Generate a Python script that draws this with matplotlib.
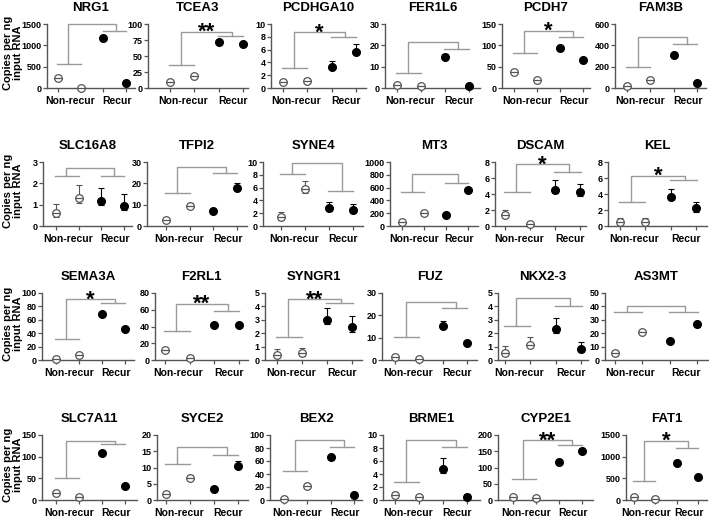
import matplotlib
matplotlib.use("Agg")
import matplotlib.pyplot as plt
import numpy as np

plt.rcParams['font.family'] = ['Liberation Sans', 'DejaVu Sans']
plt.rcParams['font.weight'] = 'bold'

FIG_W, FIG_H, DPI = 709, 520, 100

# ---- data ----
genes = ["NRG1", "TCEA3", "PCDHGA10", "FER1L6", "PCDH7", "FAM3B",
         "SLC16A8", "TFPI2", "SYNE4", "MT3", "DSCAM", "KEL",
         "SEMA3A", "F2RL1", "SYNGR1", "FUZ", "NKX2-3", "AS3MT",
         "SLC7A11", "SYCE2", "BEX2", "BRME1", "CYP2E1", "FAT1"]
y_max = [1500, 100, 10, 30, 150, 600,
         3, 30, 10, 1000, 8, 8,
         100, 80, 5, 30, 5, 50,
         150, 20, 100, 10, 200, 1500]
y_step = [500, 25, 2, 10, 50, 200,
          1, 10, 2, 200, 2, 2,
          20, 20, 1, 10, 1, 10,
          50, 5, 20, 2, 50, 500]
non_recur = [[230, 10], [10, 18], [0.9, 1.1], [1.3, 0.8], [38, 18], [20, 72],
             [0.6, 1.33], [2.8, 9.6], [1.45, 5.8], [60, 210], [1.35, 0.2], [0.55, 0.55],
             [1.5, 7], [11.5, 2.5], [0.4, 0.5], [1.5, 0.6], [0.55, 1.15], [5.5, 21],
             [17, 8], [1.8, 6.8], [1, 21], [0.8, 0.4], [8, 5], [62, 15]]
recur = [[1170, 110], [72, 69], [3.3, 5.7], [14.5, 1.0], [93, 65], [305, 47],
         [1.17, 0.95], [6.8, 17.9], [2.8, 2.5], [175, 560], [4.5, 4.2], [3.6, 2.2],
         [69, 46], [42, 42], [3.0, 2.5], [15.3, 7.4], [2.3, 0.8], [14, 26.5],
         [108, 32], [3.3, 10.6], [66, 7.5], [4.8, 0.5], [117, 150], [865, 530]]
err_hi = [[20, 10, 25, 15], [1.5, 1.5, 2, 2], [0.4, 0.4, 0.9, 1.2], [0.4, 0.3, 1.6, 0.3],
          [3, 3, 4, 3], [8, 8, 15, 8],
          [0.43, 0.6, 0.6, 0.55], [0.6, 1.2, 0.6, 2.2], [0.7, 1.3, 0.9, 0.9],
          [12, 12, 12, 15], [0.7, 0.25, 1.3, 1.1], [0.45, 0.5, 1.0, 0.8],
          [1, 2.5, 3, 2.5], [1.5, 1, 2.5, 2.5], [0.4, 0.4, 0.9, 0.8],
          [0.5, 0.4, 2.0, 1.0], [0.5, 0.6, 0.8, 0.55], [1, 1.5, 1.2, 1.5],
          [3, 3, 4, 3], [0.8, 1.0, 0.6, 1.4], [1.5, 2, 2.5, 1.5],
          [0.4, 0.3, 1.7, 0.5], [3, 3, 4, 4], [20, 15, 30, 30]]
err_lo = [[20, 10, 25, 15], [1.5, 1.5, 2, 2], [0.3, 0.3, 0.3, 0.4], [0.3, 0.3, 1.0, 0.3],
          [3, 3, 4, 3], [8, 8, 15, 8],
          [0.2, 0.25, 0.2, 0.22], [0.5, 1.0, 0.5, 1.2], [0.5, 0.6, 0.4, 0.5],
          [12, 12, 12, 15], [0.3, 0.2, 0.4, 0.5], [0.3, 0.3, 0.4, 0.4],
          [1, 2, 3, 2.5], [1.5, 1, 2.5, 2.5], [0.2, 0.2, 0.35, 0.4],
          [0.4, 0.3, 1.0, 0.8], [0.2, 0.2, 0.3, 0.2], [1, 1.5, 1.2, 1.5],
          [3, 3, 4, 3], [0.5, 0.6, 0.5, 0.7], [1.5, 2, 2.5, 1.5],
          [0.3, 0.2, 0.6, 0.3], [3, 3, 4, 4], [20, 15, 30, 30]]
# bracket heights: line over non-recur, line over recur, connecting top line
bracket_nr = [560, 36, 3.2, 7, 81, 196,
              2.33, 15.5, 8.1, 530, 4.2, 3.0,
              32, 35, 1.75, 10.3, 2.55, 35.5,
              51, 11.2, 45, 2.8, 66, 450]
bracket_r = [1340, 82, 7.9, 18.3, 119, 410,
             2.33, 24.8, 5.4, 675, 6.8, 5.7,
             85, 58, 4.25, 23.3, 4.0, 36,
             130, 14.0, 81, 8.1, 168, 1190]
bracket_top = [1500, 88, 8.7, 21.5, 134, 478,
               2.7, 27.7, 9.8, 820, 7.7, 6.3,
               91, 67, 4.55, 26, 4.6, 40,
               136, 16.3, 92, 9.3, 184, 1370]
stars = ["", "**", "*", "", "*", "",
         "", "", "", "", "*", "*",
         "*", "**", "**", "", "", "",
         "", "", "", "", "**", "*"]
group_labels = ["Non-recur", "Recur"]
ylabel_text = "Copies per ng\ninput RNA"

# ---- layout in pixels: y-axis x, first point x, last point x, x-axis end ----
panel_px = [(47, 58, 126, 135), (148, 170, 243, 248), (271, 283, 356, 366),
            (385, 397, 469, 480), (502, 514, 583, 590), (615, 627, 697, 706),
            (43, 56, 124, 132), (147, 166, 237, 247), (263, 281, 353, 363),
            (390, 402, 468, 478), (495, 505, 580, 586), (608, 620, 696, 707),
            (42, 56, 125, 134), (155, 165, 239, 248), (265, 277, 352, 362),
            (382, 395, 467, 477), (498, 505, 581, 588), (605, 615, 697, 708),
            (42, 56, 125, 137), (157, 166, 238, 248), (270, 284, 354, 362),
            (383, 395, 467, 480), (498, 513, 582, 593), (626, 634, 698, 707)]
row_top = [24, 162, 293, 435]
row_bottom = [88, 226, 360, 500]

LINE_GREY = '#9a9a9a'
AXIS_GREY = '#555555'
OPEN_GREY = '#555555'


def draw_panel(ax, i, xlim):
    x = np.array([1, 2, 3, 4])
    vals = non_recur[i] + recur[i]
    for j in range(4):
        filled = j >= 2
        col = 'black' if filled else OPEN_GREY
        ax.errorbar(x[j], vals[j], yerr=[[err_lo[i][j]], [err_hi[i][j]]], fmt='none',
                    ecolor=col, elinewidth=0.8, capsize=2.5, capthick=0.8,
                    clip_on=False, zorder=3)
        if filled:
            ax.plot(x[j], vals[j], 'o', color='black', ms=5.5, clip_on=False, zorder=4)
        else:
            ax.plot(x[j], vals[j], 'o', mfc='white', mec=col, mew=0.9, ms=5.5,
                    clip_on=False, zorder=4)
            ax.plot(x[j], vals[j], '_', color=col, ms=5.5, mew=0.9, clip_on=False, zorder=5)

    # significance brackets
    h1, h2, top = bracket_nr[i], bracket_r[i], bracket_top[i]
    kw = dict(color=LINE_GREY, lw=1.0, clip_on=False, zorder=2)
    ax.plot([0.95, 2.0], [h1, h1], **kw)
    ax.plot([2.97, 4.02], [h2, h2], **kw)
    ax.plot([1.45, 1.45, 3.55, 3.55], [h1, top, top, h2], **kw)
    if stars[i]:
        ax.annotate(stars[i], xy=(2.5, top), xytext=(0, -4.5), textcoords='offset points',
                    ha='center', va='baseline', fontsize=16, fontweight='bold',
                    annotation_clip=False)

    ax.set_xlim(*xlim)
    ax.set_ylim(0, y_max[i])
    ax.set_yticks(np.arange(0, y_max[i] + y_step[i] / 2, y_step[i]))
    ax.set_yticklabels(['%g' % v for v in ax.get_yticks()])
    ax.set_xticks(x)
    ax.set_xticklabels([])
    for s in ['top', 'right']:
        ax.spines[s].set_visible(False)
    for s in ['left', 'bottom']:
        ax.spines[s].set_color(AXIS_GREY)
        ax.spines[s].set_linewidth(1.0)
    ax.tick_params(axis='both', length=3, width=0.9, color=AXIS_GREY, labelsize=6.5, pad=1)
    for lab in ax.get_yticklabels():
        lab.set_fontweight('bold')

    for pos, lab in zip([1.55, 3.6], group_labels):
        ax.annotate(lab, xy=(pos, 0), xycoords=('data', 'axes fraction'),
                    xytext=(0, -9), textcoords='offset points',
                    ha='center', va='center', fontsize=7.5, fontweight='bold',
                    annotation_clip=False)
    ax.annotate(genes[i], xy=(0.5, 1), xycoords='axes fraction',
                xytext=(0, 11.5), textcoords='offset points',
                ha='center', va='center', fontsize=9.5, fontweight='bold',
                annotation_clip=False)


fig = plt.figure(figsize=(FIG_W / DPI, FIG_H / DPI), dpi=DPI)
for i in range(len(genes)):
    r = i // 6
    left, p1, p4, right = panel_px[i]
    sp = (p4 - p1) / 3.0
    xlim = (1 - (p1 - left) / sp, 4 + (right - p4) / sp)
    t, b = row_top[r], row_bottom[r]
    ax = fig.add_axes([left / FIG_W, 1 - b / FIG_H, (right - left) / FIG_W, (b - t) / FIG_H])
    draw_panel(ax, i, xlim)

for r in range(4):
    yc = (row_top[r] + row_bottom[r]) / 2 - 3
    fig.text(13 / FIG_W, 1 - yc / FIG_H, ylabel_text, rotation=90, ha='center', va='center',
             fontsize=8, fontweight='bold', linespacing=0.95)

fig.savefig("out.png", dpi=DPI)
